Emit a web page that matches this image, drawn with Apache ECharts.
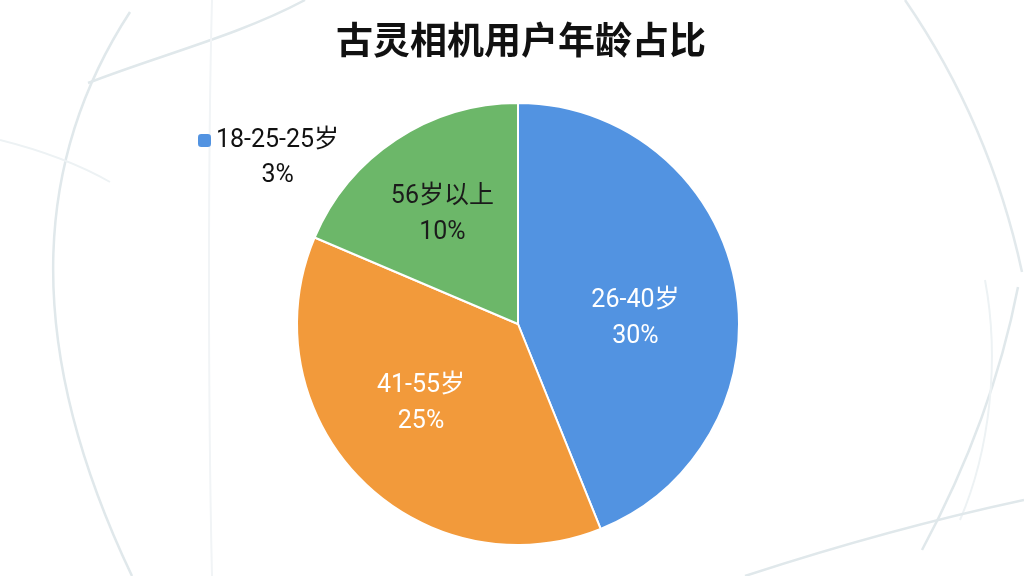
<!DOCTYPE html>
<html>
<head>
<meta charset="utf-8">
<script src="https://cdn.jsdelivr.net/npm/echarts@6/dist/echarts.min.js"></script>
<style>
html,body{margin:0;padding:0;background:#ffffff;}
#chart{width:1024px;height:576px;}
</style>
</head>
<body>
<div id="chart"></div>
<script>
// ---- data ----
const titleText = '古灵相机用户年龄占比';
const categories = ['18-25-25岁', '26-40岁', '41-55岁', '56岁以上'];
// slice sizes as drawn in the picture (share of the circle, %)
const sliceShares = [0, 43.9, 37.5, 18.6];
// percentages as printed on the picture
const printedPct = ['3%', '30%', '25%', '10%'];

// ---- styles ----
const colors = ['#5293E1', '#5293E1', '#F29A3B', '#6CB769'];
const labelColors = ['#ffffff', '#ffffff', '#ffffff', '#1b1b1b'];
const labelOffsets = [[0, 0], [6, 16], [-16, 0], [-13, -15]];
const FONT = 'Roboto, "Noto Sans CJK SC", sans-serif';

const pieData = categories.map((name, i) => {
  const item = {
    name: name,
    value: sliceShares[i],
    itemStyle: { color: colors[i] },
    label: { color: labelColors[i], offset: labelOffsets[i] }
  };
  if (i === 0) {
    item.label = { show: false };
    item.labelLine = { show: false };
  }
  return item;
});

// faint decorative background strokes: [points, colour, width]
const bgCurves = [
  [[[130, 12], [40, 150], [15, 330], [132, 576]], '#e0e8eb', 2.5],
  [[[88, 83], [160, 55], [240, 35], [305, 0]], '#e0e8eb', 2.5],
  [[[0, 140], [40, 150], [80, 165], [110, 182]], '#edf2f4', 2],
  [[[212, 0], [208, 150], [208, 400], [212, 576]], '#f1f4f6', 2],
  [[[905, 0], [960, 80], [1000, 170], [1022, 272]], '#e2e9ec', 2.5],
  [[[1018, 287], [1000, 380], [965, 470], [922, 550]], '#e0e8eb', 2.5],
  [[[985, 280], [1000, 360], [990, 450], [960, 520]], '#edf2f4', 2],
  [[[745, 576], [840, 545], [940, 518], [1024, 500]], '#e0e8eb', 2.5]
];
const graphics = bgCurves.map(c => ({
  type: 'bezierCurve',
  silent: true,
  z: -10,
  shape: { x1: c[0][0][0], y1: c[0][0][1], cpx1: c[0][1][0], cpy1: c[0][1][1], cpx2: c[0][2][0], cpy2: c[0][2][1], x2: c[0][3][0], y2: c[0][3][1] },
  style: { stroke: c[1], lineWidth: c[2], fill: null }
}));

const chart = echarts.init(document.getElementById('chart'));
chart.setOption({
  backgroundColor: '#ffffff',
  animation: false,
  graphic: graphics,
  title: {
    text: titleText,
    left: 331,
    top: 16,
    textStyle: { fontFamily: '"Noto Sans CJK SC", sans-serif', fontSize: 37, fontWeight: 'bold', color: '#111111' }
  },
  legend: {
    data: [categories[0]],
    left: 193,
    top: 123,
    orient: 'vertical',
    selectedMode: false,
    icon: 'roundRect',
    itemWidth: 13,
    itemHeight: 13,
    itemStyle: { borderWidth: 0 },
    formatter: function (name) {
      return '{n|' + name + '}\n{p|' + printedPct[categories.indexOf(name)] + '}';
    },
    textStyle: {
      fontFamily: FONT,
      fontSize: 25,
      color: '#111111',
      padding: [35, 0, 0, 0],
      rich: {
        n: { fontFamily: FONT, fontSize: 25, lineHeight: 35, color: '#111111' },
        p: { fontFamily: FONT, fontSize: 25, lineHeight: 35, color: '#111111', align: 'center' }
      }
    }
  },
  series: [{
    type: 'pie',
    center: [518, 324],
    radius: 221,
    startAngle: 90,
    clockwise: true,
    avoidLabelOverlap: false,
    itemStyle: { borderColor: '#ffffff', borderWidth: 2 },
    emphasis: { disabled: true },
    label: {
      show: true,
      position: 'inside',
      fontFamily: FONT,
      fontSize: 25,
      lineHeight: 36,
      formatter: function (p) {
        return p.name + '\n' + printedPct[p.dataIndex];
      }
    },
    labelLine: { show: false },
    data: pieData
  }]
});
</script>
</body>
</html>
